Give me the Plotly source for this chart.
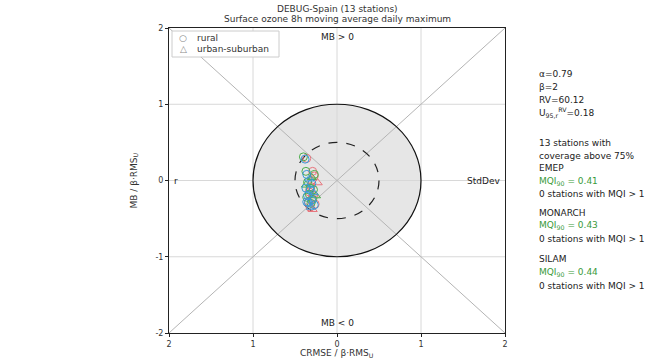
import plotly.graph_objects as go

models = ["EMEP", "MONARCH", "SILAM"]
model_colors = ["#e8747c", "#4cae4c", "#3a9ad9"]
station_type = ["rural", "rural", "urban-suburban", "rural", "rural", "rural", "urban-suburban",
                "rural", "rural", "rural", "rural", "urban-suburban", "rural"]

emep_x = [-0.36, -0.29, -0.23, -0.27, -0.31, -0.33, -0.28, -0.30, -0.34, -0.26, -0.32, -0.29, -0.30]
emep_y = [0.29, 0.12, -0.03, 0.06, -0.08, -0.15, -0.18, -0.24, -0.28, -0.31, -0.35, -0.38, 0.00]
monarch_x = [-0.40, -0.37, -0.30, -0.27, -0.35, -0.32, -0.25, -0.36, -0.29, -0.33, -0.31, -0.37, -0.28]
monarch_y = [0.31, 0.12, 0.04, 0.08, -0.02, -0.10, -0.20, -0.22, -0.25, -0.18, -0.30, -0.06, -0.12]
silam_x = [-0.38, -0.36, -0.33, -0.30, -0.37, -0.32, -0.28, -0.35, -0.30, -0.34, -0.27, -0.31, -0.36]
silam_y = [0.28, 0.08, 0.02, -0.04, -0.10, -0.12, -0.16, -0.20, -0.26, -0.29, -0.32, -0.35, -0.28]

mqi90 = [0.41, 0.43, 0.44]
n_exceed = [0, 0, 0]

tick_vals = [-2, -1, 0, 1, 2]
x_tick_text = ["2", "1", "0", "1", "2"]
y_tick_text = ["-2", "-1", "0", "1", "2"]

alpha, beta, rv, u95 = 0.79, 2, 60.12, 0.18
n_stations = 13
title_lines = ["DEBUG-Spain (13 stations)", "Surface ozone 8h moving average daily maximum"]
legend_labels = ["rural", "urban-suburban"]
legend_glyphs = ["○", "△"]

FONT = "DejaVu Sans"
fig = go.Figure()

# plot-area pixel geometry (for paper conversions)
L, R, T, B = 169, 505, 28, 333
def px(xpix):
    return (xpix - L) / float(R - L)
def py(ypix):
    return (B - ypix) / float(B - T)

shapes = []
shapes.append(dict(type="circle", xref="x", yref="y", x0=-1, x1=1, y0=-1, y1=1,
                   fillcolor="#e6e6e6", line=dict(width=0), layer="below"))
for v in [-1, 0, 1]:
    shapes.append(dict(type="line", xref="x", yref="y", x0=v, x1=v, y0=-2, y1=2,
                       line=dict(color="#d8d8d8", width=1), layer="below"))
    shapes.append(dict(type="line", xref="x", yref="y", x0=-2, x1=2, y0=v, y1=v,
                       line=dict(color="#d8d8d8", width=1), layer="below"))
shapes.append(dict(type="line", xref="x", yref="y", x0=-2, x1=2, y0=-2, y1=2,
                   line=dict(color="#b4b4b4", width=1), layer="below"))
shapes.append(dict(type="line", xref="x", yref="y", x0=-2, x1=2, y0=2, y1=-2,
                   line=dict(color="#b4b4b4", width=1), layer="below"))
shapes.append(dict(type="circle", xref="x", yref="y", x0=-0.5, x1=0.5, y0=-0.5, y1=0.5,
                   line=dict(color="#222222", width=1.2, dash="dash"), layer="below"))
shapes.append(dict(type="circle", xref="x", yref="y", x0=-1, x1=1, y0=-1, y1=1,
                   line=dict(color="#111111", width=1.2), layer="below"))
# legend box
shapes.append(dict(type="rect", xref="paper", yref="paper", x0=px(172), x1=px(279),
                   y0=py(57), y1=py(31), fillcolor="white", line=dict(color="#cccccc", width=1),
                   layer="above"))

sym_map = {"rural": "circle-open", "urban-suburban": "triangle-up-open"}
data_x = [emep_x, monarch_x, silam_x]
data_y = [emep_y, monarch_y, silam_y]
for m, c, xs, ys in zip(models, model_colors, data_x, data_y):
    fig.add_trace(go.Scatter(
        x=xs, y=ys, mode="markers", name=m, showlegend=False,
        marker=dict(symbol=[sym_map[s] for s in station_type], size=8,
                    color=c, line=dict(width=1, color=c)),
    ))

ann = []
for i, t in enumerate(title_lines):
    ann.append(dict(text=t, x=0.5, y=py([9, 19][i]), xref="paper", yref="paper", showarrow=False,
                    xanchor="center", yanchor="middle", font=dict(size=9, color="#333")))
ann.append(dict(text="MB > 0", x=0, y=1.97, xref="x", yref="y", showarrow=False,
                yanchor="top", font=dict(size=9, color="#222")))
ann.append(dict(text="MB < 0", x=0, y=-1.96, xref="x", yref="y", showarrow=False,
                yanchor="bottom", font=dict(size=9, color="#222")))
ann.append(dict(text="StdDev", x=1.97, y=0, xref="x", yref="y", showarrow=False,
                xanchor="right", yanchor="middle", font=dict(size=9, color="#222")))
ann.append(dict(text="r", x=-1.96, y=0, xref="x", yref="y", showarrow=False,
                xanchor="left", yanchor="middle", font=dict(size=9, color="#222")))

# legend entries
for i, (g, lab) in enumerate(zip(legend_glyphs, legend_labels)):
    yy = py([38, 49][i])
    ann.append(dict(text=g, x=px(183), y=yy, xref="paper", yref="paper", showarrow=False,
                    xanchor="center", yanchor="middle", font=dict(size=9, color="#888")))
    ann.append(dict(text=lab, x=px(195), y=yy, xref="paper", yref="paper", showarrow=False,
                    xanchor="left", yanchor="middle", font=dict(size=9, color="#333")))

# axis titles
ann.append(dict(text="CRMSE / β·RMS<sub>U</sub>", x=0.5, y=py(353), xref="paper", yref="paper",
                showarrow=False, yanchor="middle", font=dict(size=9, color="#333")))
ann.append(dict(text="MB / β·RMS<sub>U</sub>", x=px(134), y=0.5, xref="paper", yref="paper",
                showarrow=False, textangle=-90, xanchor="center", yanchor="middle",
                font=dict(size=9, color="#333")))

# right panel
x_right = px(537)
right_items = [
    ("α=%.2f" % alpha, 74, "#222"),
    ("β=%g" % beta, 87, "#222"),
    ("RV=%.2f" % rv, 100, "#222"),
    ("U<sub>95,r</sub><sup>RV</sup>=%.2f" % u95, 113, "#222"),
    ("%d stations with" % n_stations, 143, "#222"),
    ("coverage above 75%", 156, "#222"),
]
ys_model = [(168, 181, 194), (213, 226, 239), (259, 272, 286)]
for m, q, n, (ya, yb, yc) in zip(models, mqi90, n_exceed, ys_model):
    right_items.append((m, ya, "#222"))
    right_items.append(("MQI<sub>90</sub> = %.2f" % q, yb, "#3a9a3a"))
    right_items.append(("%d stations with MQI > 1" % n, yc, "#222"))
for t, yp, col in right_items:
    ann.append(dict(text=t, x=x_right, y=py(yp), xref="paper", yref="paper", showarrow=False,
                    xanchor="left", yanchor="middle", font=dict(size=9, color=col)))

fig.update_layout(
    width=666, height=361,
    margin=dict(l=L, r=666 - R, t=T, b=361 - B),
    paper_bgcolor="white", plot_bgcolor="white",
    font=dict(family=FONT, size=9, color="#333"),
    showlegend=False,
    shapes=shapes,
    annotations=ann,
    xaxis=dict(range=[-2, 2], tickvals=tick_vals, ticktext=x_tick_text, showgrid=False,
               zeroline=False, showline=True, linecolor="#222", mirror=True, linewidth=1,
               ticks="outside", ticklen=3, tickcolor="#222", tickfont=dict(size=8, color="#333")),
    yaxis=dict(range=[-2, 2], tickvals=tick_vals, ticktext=y_tick_text, showgrid=False,
               zeroline=False, showline=True, linecolor="#222", mirror=True, linewidth=1,
               ticks="outside", ticklen=3, tickcolor="#222", tickfont=dict(size=8, color="#333")),
)

fig.write_html("out.html")
